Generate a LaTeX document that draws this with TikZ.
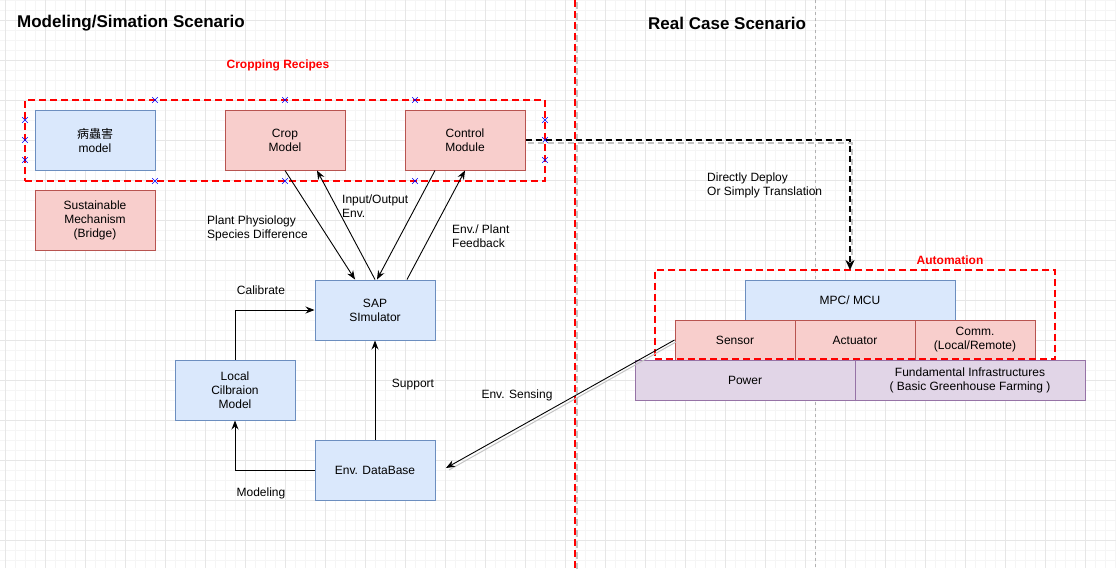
\documentclass[tikz,border=0pt]{standalone}
\usepackage{fontspec}
\setmainfont{Liberation Sans}
\newfontfamily\cjk{Noto Sans CJK TC}
\usetikzlibrary{arrows.meta,shapes.misc,calc}
\definecolor{bfill}{HTML}{DAE8FC}
\definecolor{bdraw}{HTML}{6C8EBF}
\definecolor{rfill}{HTML}{F8CECC}
\definecolor{rdraw}{HTML}{B85450}
\definecolor{pfill}{HTML}{E1D5E7}
\definecolor{pdraw}{HTML}{9673A6}
\definecolor{redline}{HTML}{FF0000}
\definecolor{gridminor}{HTML}{F5F5F5}
\definecolor{gridmajor}{HTML}{E6E6E6}
\definecolor{shadowgray}{HTML}{C4C4C4}
\tikzset{
  box/.style={draw, line width=1pt, minimum width=120pt, minimum height=60pt, inner sep=0pt, align=center},
  bluebox/.style={box, fill=bfill, draw=bdraw},
  redbox/.style={box, fill=rfill, draw=rdraw},
  purbox/.style={box, fill=pfill, draw=pdraw},
  reddash/.style={draw=redline, line width=2pt, dash pattern=on 7pt off 4pt},
  arr/.style={line width=0.9pt, -{Stealth[length=9pt,width=7pt,inset=3pt]}},
  lbl/.style={inner sep=0pt, align=left, anchor=west},
  title/.style={inner sep=0pt, anchor=west, font=\fontsize{17}{20}\selectfont\bfseries},
  redtitle/.style={inner sep=0pt, text=redline, font=\fontsize{12}{14}\selectfont\bfseries},
  crossmark/.style={cross out, draw=blue, line width=0.6pt, minimum size=5pt, inner sep=0pt}
}
\begin{document}
\begin{tikzpicture}[x=1pt, y=-1pt, font=\fontsize{12}{14}\selectfont]
\useasboundingbox (0,0) rectangle (1116,568);
\fill[white] (0,0) rectangle (1116,568);
% grid
\foreach \gx in {5,15,...,1115} \draw[gridminor, line width=0.6pt] (\gx,0) -- (\gx,568);
\foreach \gy in {0,10,...,560} \draw[gridminor, line width=0.6pt] (0,\gy) -- (1116,\gy);
\foreach \gx in {5,45,...,1115} \draw[gridmajor, line width=0.8pt] (\gx,0) -- (\gx,568);
\foreach \gy in {20,60,...,560} \draw[gridmajor, line width=0.8pt] (0,\gy) -- (1116,\gy);
% page break line
\draw[gray!60, line width=0.6pt, dash pattern=on 3pt off 3pt] (815,0) -- (815,568);
% separator
\draw[shadowgray, line width=2pt, dash pattern=on 7pt off 4pt] (577,2) -- (577,570);
\draw[reddash] (575,0) -- (575,568);

% titles
\node[title] (t1) at (17,23) {Modeling/Simation Scenario};
\node[title] (t2) at (648,23) {Real Case Scenario};
\node[redtitle] (t3) at (278,65) {Cropping Recipes};
\node[redtitle] (t4) at (950,260) {Automation};

% left boxes
\node[reddash, minimum width=520pt, minimum height=81pt, inner sep=0pt] (recipes) at (285,140.5) {};
\node[bluebox] (pest) at (95,140) {{\cjk 病蟲害}\\model};
\node[redbox] (crop) at (285,140) {Crop\\Model};
\node[redbox] (ctrl) at (465,140) {Control\\Module};
\node[redbox] (sust) at (95,220) {Sustainable\\Mechanism\\(Bridge)};
\node[bluebox] (sap) at (375,310) {SAP\\SImulator};
\node[bluebox] (local) at (235,390) {Local\\Cilbraion\\Model};
\node[bluebox] (envdb) at (375,470) {Env. DataBase};

% crosses on the recipes box
\foreach \cxx [count=\ci] in {155,285,415} {
  \node[crossmark] (ct\ci) at (\cxx,100) {};
  \node[crossmark] (cb\ci) at (\cxx,181) {};
}
\foreach \cyy [count=\ci] in {120,140,160} {
  \node[crossmark] (cl\ci) at (25,\cyy) {};
  \node[crossmark] (cr\ci) at (545,\cyy) {};
}

% right boxes
\node[bluebox, minimum width=210pt, minimum height=40pt] (mpc) at (850,300) {MPC/ MCU};
\node[redbox, minimum height=40pt] (sensor) at (735,340) {Sensor};
\node[redbox, minimum height=40pt] (actuator) at (855,340) {Actuator};
\node[redbox, minimum height=40pt] (comm) at (975,340) {Comm.\\(Local/Remote)};
\node[purbox, minimum width=220pt, minimum height=40pt] (power) at (745,380) {Power};
\node[purbox, minimum width=230pt, minimum height=40pt] (fund) at (970,380) {Fundamental Infrastructures\\( Basic Greenhouse Farming )};
\node[reddash, minimum width=400pt, minimum height=89pt, inner sep=0pt] (autom) at (855,314.5) {};

% arrows between crop/control and SAP
\draw[arr] (crop.south) -- ($(sap.north)+(-20,0)$);
\draw[arr] (sap.north) -- ($(crop.south)+(32,0)$);
\draw[arr] ($(ctrl.south)+(-30,0)$) -- ($(sap.north)+(2,0)$);
\draw[arr] ($(sap.north)+(32,0)$) -- (ctrl.south);

\node[lbl] (l1) at (207,228) {Plant Physiology\\Species Difference};
\node[lbl] (l2) at (342,206.5) {Input/Output\\Env.};
\node[lbl] (l3) at (452,236.5) {Env./ Plant\\Feedback};

% calibrate / support / modeling
\draw[arr] (local.north) |- (sap.west);
\draw[arr] (envdb.north) -- (sap.south);
\draw[arr] (envdb.west) -| (local.south);
\node[inner sep=0pt] (l4) at (261,290) {Calibrate};
\node[inner sep=0pt] (l5) at (413,385) {Support};
\node[inner sep=0pt] (l6) at (261,493) {Modeling};

% env sensing
\coordinate (sensend) at (446,468);
\draw[shadowgray, line width=1pt] ($(sensor.west)+(1.5,2)$) -- ($(sensend)+(3,2)$);
\draw[arr] (sensor.west) -- (sensend);
\node[inner sep=0pt] (l7) at (517,395) {Env. Sensing};

% deploy dashed arrow
\coordinate (deployend) at (850,270);
\draw[shadowgray, line width=2pt, dash pattern=on 6pt off 4pt] ($(ctrl.east)+(2,3)$) -- (852,143) -- (852,262);
\draw[line width=2pt, dash pattern=on 6pt off 4pt, -{Stealth[length=10pt,width=9pt,inset=3pt]}] (ctrl.east) -| (deployend);
\node[lbl] (l8) at (707,185.5) {Directly Deploy\\Or Simply Translation};
\end{tikzpicture}
\end{document}
